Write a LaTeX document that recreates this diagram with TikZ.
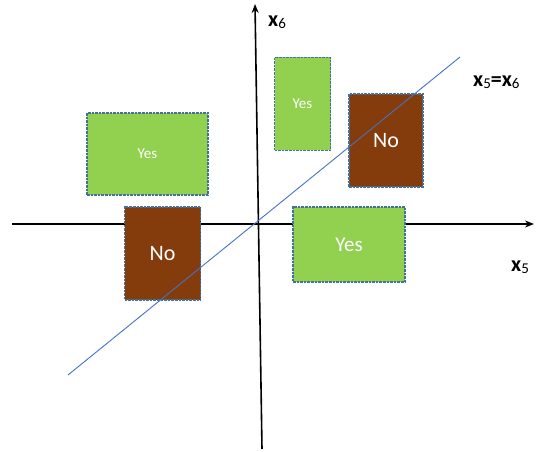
\documentclass[tikz,border=0pt]{standalone}
\usepackage{fontspec}
\setmainfont{Carlito}
\usetikzlibrary{arrows.meta}
\newcommand{\subidx}[1]{\raisebox{-2.5pt}{\mdseries\fontsize{15}{15}\selectfont#1}}
\begin{document}
\begin{tikzpicture}[x=1pt,y=-1pt,
  region/.style={draw=regionedge,line width=1.1pt,dash pattern=on 2.6pt off 1pt,text=white,inner sep=0pt},
  yesbox/.style={region,fill=yesgreen},
  nobox/.style={region,fill=nobrown},
  axis/.style={line width=1.6pt,-{Stealth[length=9pt,width=7pt]}},
  axlabel/.style={font=\bfseries\fontsize{22}{22}\selectfont,inner sep=0pt}]
\definecolor{yesgreen}{HTML}{92D050}
\definecolor{nobrown}{HTML}{843C0C}
\definecolor{regionedge}{HTML}{41719C}
\definecolor{splitline}{HTML}{4472C4}
\useasboundingbox (0,0) rectangle (542,452);
% axes
\coordinate (xs) at (12,224);
\coordinate (xe) at (534,224);
\coordinate (ys) at (262,449);
\coordinate (ye) at (255,4);
\draw[axis] (xs) -- (xe);
\draw[axis] (ys) -- (ye);
% decision regions
\node[yesbox,minimum width=56pt,minimum height=93pt,font=\fontsize{15}{15}\selectfont] (y1) at (302.5,104) {Yes};
\node[yesbox,minimum width=121pt,minimum height=82pt,font=\fontsize{15}{15}\selectfont] (y2) at (147.5,154) {Yes};
\node[yesbox,minimum width=112pt,minimum height=75pt,font=\fontsize{21}{21}\selectfont] (y3) at (349,244.5) {Yes};
\node[nobox,minimum width=76pt,minimum height=93pt,font=\fontsize{22}{22}\selectfont] (n1) at (162.5,253.5) {No};
\node[nobox,minimum width=74pt,minimum height=93pt,font=\fontsize{22}{22}\selectfont] (n2) at (386,140.5) {No};
% boundary x5 = x6
\coordinate (da) at (68,375);
\coordinate (db) at (460,57);
\draw[splitline,line width=0.9pt] (da) -- (db);
% labels
\node[axlabel,anchor=west] (lx6) at (268,22) {x\subidx{6}};
\node[axlabel,anchor=west] (ld) at (473,82) {x\subidx{5}=x\subidx{6}};
\node[axlabel,anchor=west] (lx5) at (511,267) {x\subidx{5}};
\end{tikzpicture}
\end{document}
